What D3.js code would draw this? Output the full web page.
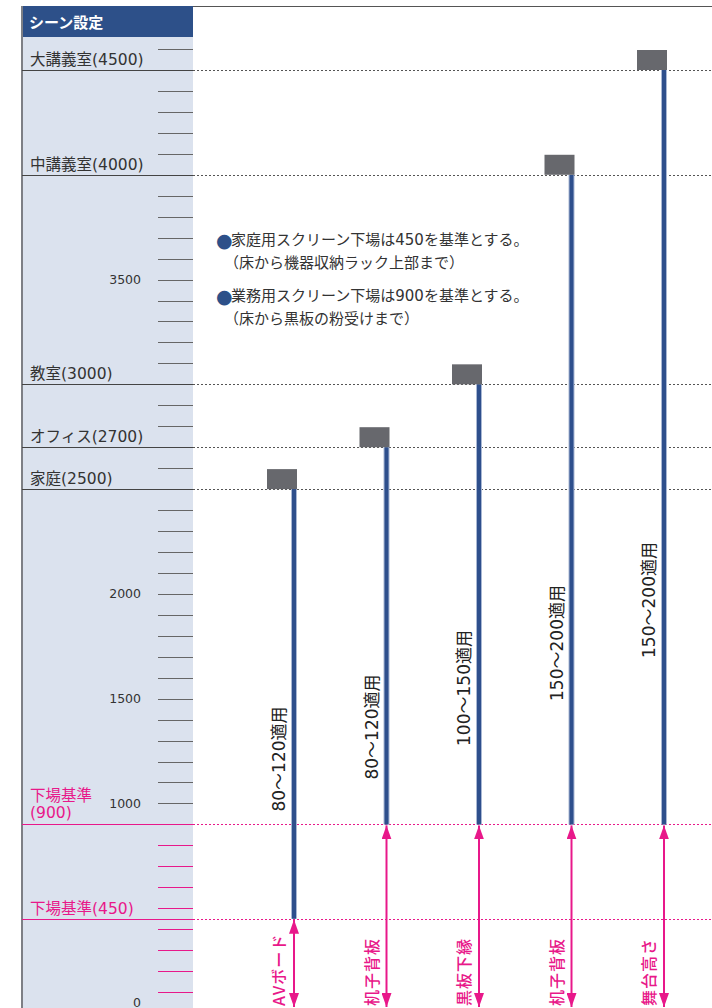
<!DOCTYPE html>
<html>
<head>
<meta charset="utf-8">
<script src="https://cdn.jsdelivr.net/npm/d3@7"></script>
<style>
  html, body { margin: 0; padding: 0; background: #fff; }
  svg { display: block; font-family: "DejaVu Sans", "Noto Sans CJK JP", sans-serif; }
</style>
</head>
<body>
<div id="chart"></div>
<script>
// scene heights (left panel)
var sceneNames   = ["大講義室", "中講義室", "教室", "オフィス", "家庭"];
var sceneHeights = [4500, 4000, 3000, 2700, 2500];

// screen bottom reference lines
var baseNames  = ["下場基準", "下場基準"];
var baseValues = [900, 450];

// labelled axis ticks
var tickLabels = [0, 1000, 1500, 2000, 3500];

// screens
var screenSizes  = ["80～120適用", "80～120適用", "100～150適用", "150～200適用", "150～200適用"];
var screenTop    = [2500, 2700, 3000, 4000, 4500];
var screenBottom = [450, 900, 900, 900, 900];
var screenBase   = ["AVボード", "机子背板", "黒板下縁", "机子背板", "舞台高さ"];

// notes
var notes = [
    ["家庭用スクリーン下場は450を基準とする。", "（床から機器収納ラック上部まで）"],
    ["業務用スクリーン下場は900を基準とする。", "（床から黒板の粉受けまで）"]
];

var width = 712,
    height = 1008,
    panel = {left: 22, right: 193, top: 6, header: 31},
    navy = "#2d5089",
    pink = "#e8188a",
    barBlue = "#2e4f8c";

// layout of rotated size labels (centre y in px)
var sizeLabelY = [759, 727, 688, 643, 600];

var svg = d3.select("#chart").append("svg")
    .attr("width", width)
    .attr("height", height);

var y = d3.scaleLinear().domain([0, 4500]).range([1013, 70]);
var x = d3.scalePoint().domain(d3.range(screenTop.length)).range([294, 664]);

var defs = svg.append("defs");
function marker(id, path) {
    defs.append("marker")
        .attr("id", id)
        .attr("viewBox", "0 0 10 14")
        .attr("refX", 5).attr("refY", path === "up" ? 0 : 14)
        .attr("markerUnits", "userSpaceOnUse")
        .attr("markerWidth", 10).attr("markerHeight", 14)
        .attr("orient", "0")
        .append("path")
        .attr("d", path === "up" ? "M5,0L10,14L0,14Z" : "M0,0L10,0L5,14Z")
        .attr("fill", pink);
}
marker("arrUp", "up");
marker("arrDown", "down");

// left panel
svg.append("rect")
    .attr("x", panel.left).attr("y", panel.top)
    .attr("width", panel.right - panel.left).attr("height", height)
    .attr("fill", "#dbe2ee");
svg.append("rect")
    .attr("x", panel.left).attr("y", panel.top)
    .attr("width", panel.right - panel.left).attr("height", panel.header)
    .attr("fill", navy);
svg.append("text")
    .attr("x", panel.left + 7).attr("y", panel.top + panel.header / 2)
    .attr("dominant-baseline", "central")
    .attr("fill", "#fff").attr("font-size", 15).attr("font-weight", "bold")
    .attr("font-family", "Noto Sans CJK JP")
    .text("シーン設定");
svg.append("line")
    .attr("x1", panel.left).attr("x2", panel.left)
    .attr("y1", panel.top).attr("y2", height)
    .attr("stroke", "#7d7f85").attr("stroke-width", 2);
svg.append("line")
    .attr("x1", panel.right).attr("x2", width)
    .attr("y1", panel.top + 0.5).attr("y2", panel.top + 0.5)
    .attr("stroke", "#555").attr("stroke-width", 1);

// minor ticks every 100
var minor = d3.range(0, 4700, 100).filter(function(v) { return sceneHeights.indexOf(v) < 0; });
svg.append("g").selectAll("line")
    .data(minor)
    .enter().append("line")
    .attr("x1", 158).attr("x2", panel.right)
    .attr("y1", function(d) { return Math.round(y(d)) + 0.5; })
    .attr("y2", function(d) { return Math.round(y(d)) + 0.5; })
    .attr("stroke", function(d) { return d < baseValues[0] ? pink : "#666"; })
    .attr("stroke-width", 1.2);

svg.append("g").selectAll("text")
    .data(tickLabels)
    .enter().append("text")
    .attr("x", 141)
    .attr("y", function(d) { return Math.min(y(d), 1002); })
    .attr("text-anchor", "end")
    .attr("dominant-baseline", "central")
    .attr("font-size", 12.5)
    .attr("fill", "#333")
    .text(function(d) { return d; });

// scene lines
var scenes = svg.append("g").selectAll("g")
    .data(sceneHeights)
    .enter().append("g");
scenes.append("line")
    .attr("x1", panel.left).attr("x2", panel.right)
    .attr("y1", function(d) { return Math.round(y(d)) + 0.5; })
    .attr("y2", function(d) { return Math.round(y(d)) + 0.5; })
    .attr("stroke", "#444").attr("stroke-width", 1.2);
scenes.append("line")
    .attr("x1", panel.right).attr("x2", width)
    .attr("y1", function(d) { return Math.round(y(d)) + 0.5; })
    .attr("y2", function(d) { return Math.round(y(d)) + 0.5; })
    .attr("stroke", "#555").attr("stroke-width", 1)
    .attr("stroke-dasharray", "2,2");
scenes.append("text")
    .attr("x", panel.left + 8)
    .attr("y", function(d) { return y(d) - 5; })
    .attr("font-size", 15.5)
    .attr("fill", "#333")
    .text(function(d, i) { return sceneNames[i] + "(" + d + ")"; });

// base lines (pink)
var bases = svg.append("g").selectAll("g")
    .data(baseValues)
    .enter().append("g");
bases.append("line")
    .attr("x1", panel.left).attr("x2", panel.right)
    .attr("y1", function(d) { return Math.round(y(d)) + 0.5; })
    .attr("y2", function(d) { return Math.round(y(d)) + 0.5; })
    .attr("stroke", pink).attr("stroke-width", 1.2);
bases.append("line")
    .attr("x1", panel.right).attr("x2", width)
    .attr("y1", function(d) { return Math.round(y(d)) + 0.5; })
    .attr("y2", function(d) { return Math.round(y(d)) + 0.5; })
    .attr("stroke", pink).attr("stroke-width", 1)
    .attr("stroke-dasharray", "2,2");
bases.each(function(d, i) {
    var t = d3.select(this).append("text")
        .attr("x", panel.left + 8)
        .attr("font-size", 15.5)
        .attr("fill", pink);
    if (i === 0) {
        t.append("tspan").attr("x", panel.left + 8).attr("y", y(d) - 23).text(baseNames[i]);
        t.append("tspan").attr("x", panel.left + 8).attr("y", y(d) - 6).text("(" + d + ")");
    } else {
        t.attr("y", y(d) - 5).text(baseNames[i] + "(" + d + ")");
    }
});

// notes
var noteG = svg.append("g");
notes.forEach(function(n, i) {
    var top = 240 + i * 56;
    noteG.append("text")
        .attr("x", 216).attr("y", top)
        .attr("dominant-baseline", "central")
        .attr("font-size", 19).attr("fill", navy)
        .text("●");
    noteG.append("text")
        .attr("x", 231).attr("y", top)
        .attr("dominant-baseline", "central")
        .attr("font-size", 15).attr("fill", "#333")
        .text(n[0]);
    noteG.append("text")
        .attr("x", 224).attr("y", top + 23)
        .attr("dominant-baseline", "central")
        .attr("font-size", 15).attr("fill", "#333")
        .text(n[1]);
});

// screens
var screens = svg.append("g").selectAll("g")
    .data(screenTop)
    .enter().append("g");

// pink arrows from screen bottom to floor
screens.append("line")
    .attr("x1", function(d, i) { return x(i); })
    .attr("x2", function(d, i) { return x(i); })
    .attr("y1", function(d, i) { return y(screenBottom[i]) + 1; })
    .attr("y2", function(d, i) { return y(0) - 6; })
    .attr("stroke", pink).attr("stroke-width", 2)
    .attr("marker-start", "url(#arrUp)")
    .attr("marker-end", "url(#arrDown)");

screens.append("line")
    .attr("x1", function(d, i) { return x(i); })
    .attr("x2", function(d, i) { return x(i); })
    .attr("y1", function(d) { return y(d); })
    .attr("y2", function(d, i) { return y(screenBottom[i]); })
    .attr("stroke", "#a9b8d4").attr("stroke-width", 6);
screens.append("line")
    .attr("x1", function(d, i) { return x(i); })
    .attr("x2", function(d, i) { return x(i); })
    .attr("y1", function(d) { return y(d); })
    .attr("y2", function(d, i) { return y(screenBottom[i]); })
    .attr("stroke", barBlue).attr("stroke-width", 4);

screens.append("rect")
    .attr("x", function(d, i) { return x(i) - 27; })
    .attr("y", function(d) { return y(d) - 20; })
    .attr("width", 30).attr("height", 20)
    .attr("fill", "#67686d");

screens.append("text")
    .attr("transform", function(d, i) { return "translate(" + (x(i) - 15) + "," + sizeLabelY[i] + ") rotate(-90)"; })
    .attr("text-anchor", "middle")
    .attr("dominant-baseline", "central")
    .attr("font-size", 17)
    .attr("fill", "#222")
    .text(function(d, i) { return screenSizes[i]; });

screens.append("text")
    .attr("transform", function(d, i) { return "translate(" + (x(i) - 16) + "," + 1006 + ") rotate(-90)"; })
    .attr("dominant-baseline", "central")
    .attr("font-family", "Noto Sans CJK JP")
    .attr("font-size", 16)
    .attr("font-weight", 500)
    .attr("letter-spacing", 1)
    .attr("fill", pink)
    .text(function(d, i) { return screenBase[i]; });
</script>
</body>
</html>
